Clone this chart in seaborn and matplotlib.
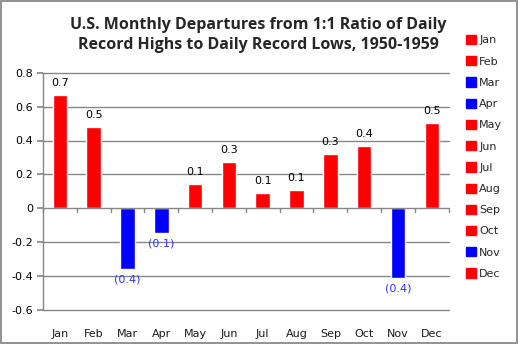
import matplotlib
matplotlib.use("Agg")
import matplotlib.pyplot as plt
from matplotlib.patches import Rectangle
from matplotlib.ticker import FixedLocator
import seaborn as sns
import pandas as pd

months = ["Jan", "Feb", "Mar", "Apr", "May", "Jun",
          "Jul", "Aug", "Sep", "Oct", "Nov", "Dec"]
departures = [0.668, 0.48, -0.358, -0.146, 0.143, 0.273,
              0.09, 0.108, 0.32, 0.368, -0.41, 0.503]
y_ticks = [0.8, 0.6, 0.4, 0.2, 0.0, -0.2, -0.4, -0.6]
y_tick_labels = ["0.8", "0.6", "0.4", "0.2", "0", "-0.2", "-0.4", "-0.6"]
title = "U.S. Monthly Departures from 1:1 Ratio of Daily\nRecord Highs to Daily Record Lows, 1950-1959"

RED = "#FF0000"
BLUE = "#0000FF"
GRID = "#868686"

sns.set_theme(style="white")
plt.rcParams["font.family"] = ["DejaVu Sans"]

df = pd.DataFrame({"month": months, "value": departures})
palette = {m: (RED if v >= 0 else BLUE) for m, v in zip(months, departures)}

fig = plt.figure(figsize=(5.18, 3.44), dpi=100)
ax = fig.add_axes([43 / 518, 1 - 310 / 344, (448.7 - 43) / 518, (310 - 72.7) / 344])

sns.barplot(data=df, x="month", y="value", hue="month", palette=palette,
            width=0.43, dodge=False, legend=True, ax=ax, saturation=1)

ax.set_ylim(-0.6, 0.8)
ax.set_xlim(-0.5, len(months) - 0.5)
ax.yaxis.set_major_locator(FixedLocator(y_ticks))
ax.set_yticklabels(y_tick_labels)
ax.set_xlabel("")
ax.set_ylabel("")

# horizontal gridlines
for t in y_ticks:
    if t != 0:
        ax.axhline(t, color=GRID, lw=1.0, zorder=0, clip_on=False)
# category axis drawn at zero, with ticks at the category boundaries
ax.axhline(0, color=GRID, lw=1.0, zorder=3)
for b in range(len(months) + 1):
    ax.plot([b - 0.5, b - 0.5], [0, -0.024], color=GRID, lw=1.0,
            clip_on=False, zorder=3)

for s in ["top", "right", "bottom"]:
    ax.spines[s].set_visible(False)
ax.spines["left"].set_color(GRID)
ax.spines["left"].set_linewidth(1.0)
ax.tick_params(axis="y", left=True, length=4, color=GRID, labelsize=8,
               labelcolor="black", pad=3)
ax.tick_params(axis="x", bottom=False, labelsize=8, labelcolor="#1a1a1a", pad=8)

# data labels
for i, v in enumerate(departures):
    if v >= 0:
        ax.annotate(f"{v:.1f}", (i, v), xytext=(0, 5), textcoords="offset points",
                    ha="center", va="bottom", fontsize=8, color="black")
    else:
        ax.annotate(f"({abs(v):.1f})", (i, v), xytext=(0, -4), textcoords="offset points",
                    ha="center", va="top", fontsize=8, color="#3333FF")

# legend on the right
handles = [Rectangle((0, 0), 1, 1, color=palette[m]) for m in months]
leg = ax.legend(handles, months, loc="upper left", bbox_to_anchor=(466 / 518, 1 - 35 / 344),
                bbox_transform=fig.transFigure, frameon=False, fontsize=8,
                handlelength=0.9, handleheight=0.9, handletextpad=0.3,
                labelspacing=0.97, borderaxespad=0, borderpad=0)

fig.text(258 / 518, 1 - 35 / 344, title, ha="center", va="center",
         fontsize=11.5, fontweight="bold", family="Open Sans", linespacing=1.4)

# outer chart border
fig.patches.append(Rectangle((0.001, 0.002), 0.997, 0.996, transform=fig.transFigure,
                             fill=False, edgecolor="#7f7f7f", lw=1.2))

fig.savefig("out.png", dpi=100)
